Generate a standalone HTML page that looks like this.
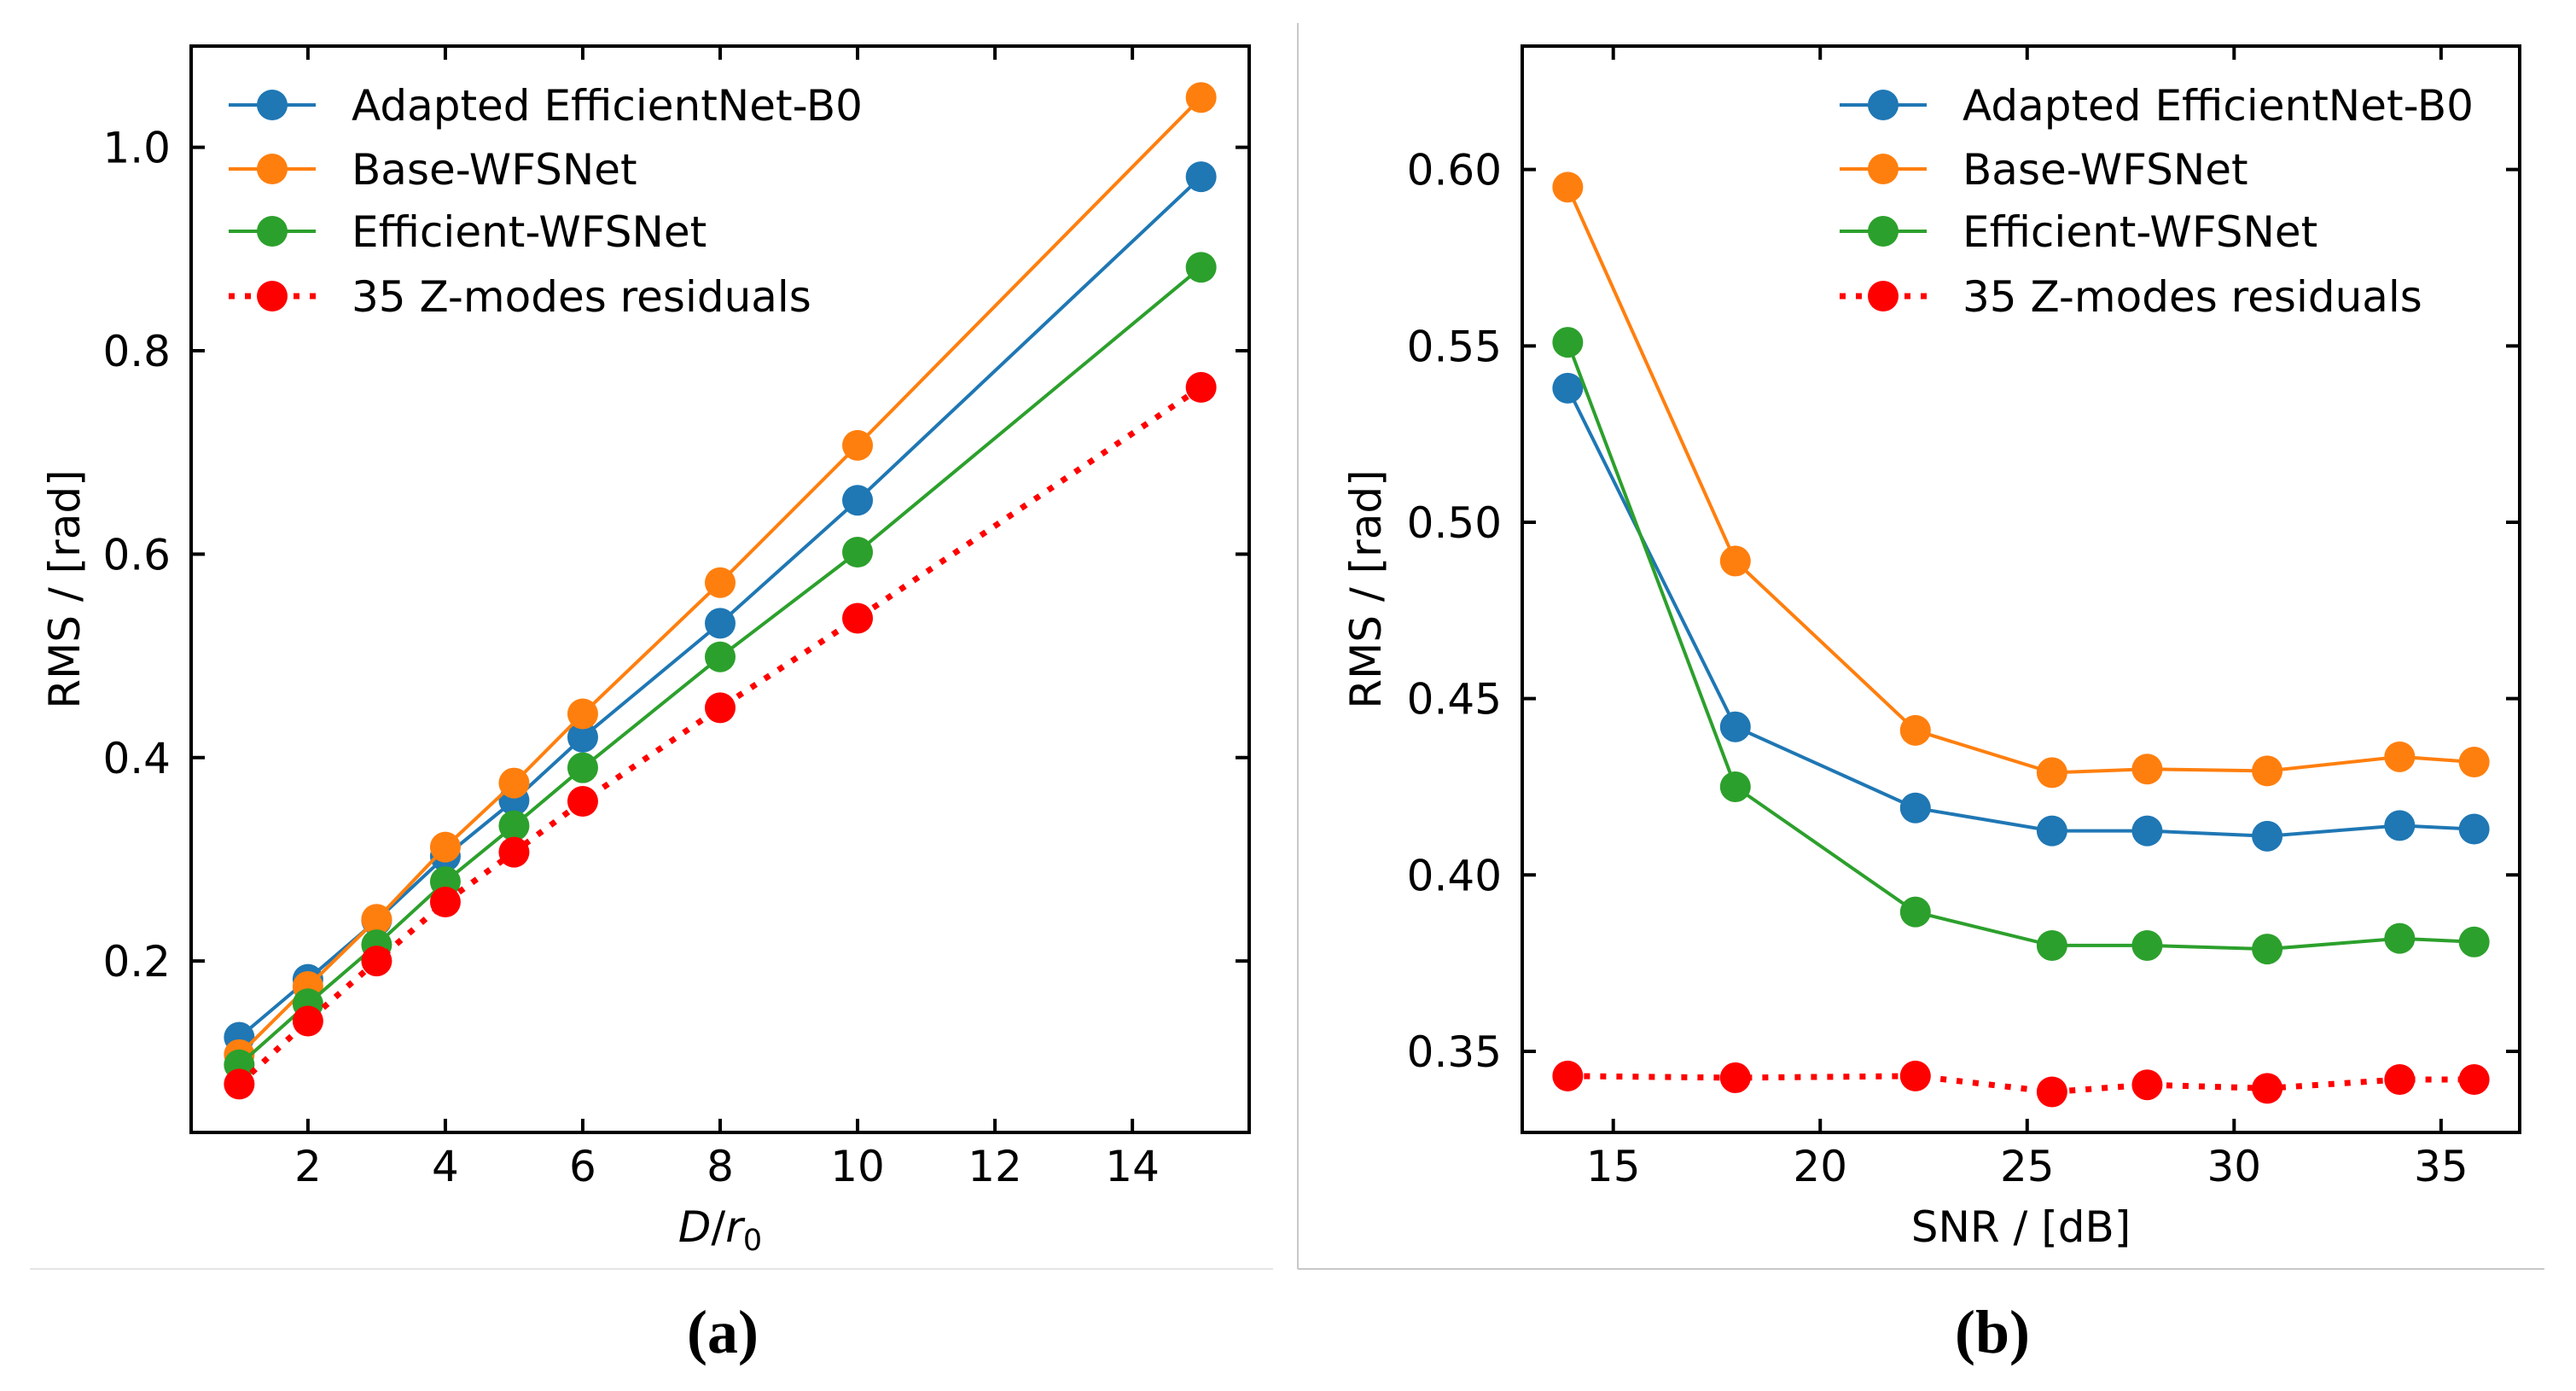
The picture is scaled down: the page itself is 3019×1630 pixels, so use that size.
<!DOCTYPE html>
<html><head><meta charset="utf-8"><style>
html,body{margin:0;padding:0;background:#fff;}
svg{display:block;}
text{font-family:"DejaVu Sans","Liberation Sans",sans-serif;fill:#000;}
</style></head><body>
<svg id="fig" xmlns="http://www.w3.org/2000/svg" width="3019" height="1630" viewBox="0 0 3019 1630">
<rect width="3019" height="1630" fill="#fff"/>
<line x1="35" y1="1487" x2="1492" y2="1487" stroke="#e4e4e4" stroke-width="2"/>
<line x1="1521" y1="1487" x2="2982" y2="1487" stroke="#c8c8c8" stroke-width="2"/>
<line x1="1521" y1="27" x2="1521" y2="1487" stroke="#c8c8c8" stroke-width="2"/>
<text x="847" y="1585" font-weight="bold" font-size="72" text-anchor="middle" style="font-family:'Liberation Serif',serif">(a)</text>
<text x="2335" y="1585" font-weight="bold" font-size="72" text-anchor="middle" style="font-family:'Liberation Serif',serif">(b)</text>
</svg>
<script>
// Panel (a) data
const aX = [1, 2, 3, 4, 5, 6, 8, 10, 15];
const aBlue = [0.125, 0.182, 0.240, 0.303, 0.358, 0.420, 0.532, 0.653, 0.971];
const aOrange = [0.108, 0.175, 0.241, 0.312, 0.375, 0.443, 0.572, 0.707, 1.049];
const aGreen = [0.098, 0.158, 0.216, 0.278, 0.333, 0.390, 0.499, 0.602, 0.882];
const aRed = [0.079, 0.141, 0.200, 0.258, 0.307, 0.357, 0.449, 0.537, 0.764];
const aXTicks = [2, 4, 6, 8, 10, 12, 14];
const aYTicks = [0.2, 0.4, 0.6, 0.8, 1.0];
// Panel (b) data
const bX = [13.9, 17.95, 22.3, 25.6, 27.9, 30.8, 34.0, 35.8];
const bBlue = [0.538, 0.442, 0.419, 0.4125, 0.4125, 0.411, 0.414, 0.413];
const bOrange = [0.595, 0.489, 0.441, 0.429, 0.430, 0.4295, 0.4335, 0.432];
const bGreen = [0.551, 0.425, 0.3895, 0.380, 0.380, 0.379, 0.382, 0.381];
const bRed = [0.343, 0.3425, 0.343, 0.3385, 0.3405, 0.3395, 0.342, 0.342];
const bXTicks = [15, 20, 25, 30, 35];
const bYTicks = [0.35, 0.40, 0.45, 0.50, 0.55, 0.60];
const seriesNames = ["Adapted EfficientNet-B0", "Base-WFSNet", "Efficient-WFSNet", "35 Z-modes residuals"];

const NS = "http://www.w3.org/2000/svg";
const svg = document.getElementById("fig");
function mk(tag, attrs, parent) {
  const e = document.createElementNS(NS, tag);
  for (const k in attrs) e.setAttribute(k, attrs[k]);
  (parent || svg).appendChild(e);
  return e;
}
const colors = ["#1f77b4", "#ff7f0e", "#2ca02c", "#ff0000"];

function panel(cfg) {
  const g = mk("g", {});
  
  
  const L = cfg.box[0], T = cfg.box[1], R = cfg.box[2], B = cfg.box[3];
  const sx = v => L + (v - cfg.xr[0]) / (cfg.xr[1] - cfg.xr[0]) * (R - L);
  const sy = v => B - (v - cfg.yr[0]) / (cfg.yr[1] - cfg.yr[0]) * (B - T);
  cfg.xt.forEach(t => {
    const x = sx(t);
    const tk = mk("path", {d: `M${x},${B}v-16M${x},${T}v16`, stroke: "#000", "stroke-width": 4}, g);
    
    
    const lb = mk("text", {x: x, y: 1384, "font-size": 50, "text-anchor": "middle"}, g);
    lb.textContent = String(t);
    
    
  });
  cfg.yt.forEach(t => {
    const y = sy(t);
    const tk = mk("path", {d: `M${L},${y}h16M${R},${y}h-16`, stroke: "#000", "stroke-width": 4}, g);
    
    
    const lb = mk("text", {x: L - 24, y: y + 18, "font-size": 50, "text-anchor": "end"}, g);
    lb.textContent = t.toFixed(cfg.dec);
    
    
  });
  cfg.series.forEach((ys, i) => {
    const pts = cfg.x.map((xv, j) => sx(xv).toFixed(1) + "," + sy(ys[j]).toFixed(1)).join(" ");
    const attrs = {points: pts, fill: "none", stroke: colors[i], "stroke-width": i === 3 ? 7 : 4};
    if (i === 3) attrs["stroke-dasharray"] = "7 12";
    const pl = mk("polyline", attrs, g);
    
    
    cfg.x.forEach((xv, j) => {
      const c = mk("circle", {cx: sx(xv), cy: sy(ys[j]), r: 18, fill: colors[i]}, g);
      
      
    });
  });
  const fr = mk("rect", {x: L, y: T, width: R - L, height: B - T, fill: "none", stroke: "#000", "stroke-width": 4}, g);
  
  
  const lg = mk("g", {}, g);
  
  
  const rows = [123, 198, 271, 347];
  seriesNames.forEach((n, i) => {
    const y = rows[i];
    const la = {x1: cfg.lx, y1: y, x2: cfg.lx + 102, y2: y, stroke: colors[i], "stroke-width": i === 3 ? 7 : 4};
    if (i === 3) la["stroke-dasharray"] = "7 12";
    const ln = mk("line", la, lg);
    
    
    const c = mk("circle", {cx: cfg.lx + 51, cy: y, r: 18, fill: colors[i]}, lg);
    
    
    const t = mk("text", {x: cfg.lx + 144, y: y + 18, "font-size": 50}, lg);
    t.textContent = n;
    
    
  });
  const yl = mk("text", {x: 0, y: 0, "font-size": 50, "text-anchor": "middle", transform: `translate(${cfg.ylx},${(T + B) / 2}) rotate(-90)`}, g);
  yl.textContent = "RMS / [rad]";
  
  
  const xl = mk("text", {x: (L + R) / 2, y: 1455, "font-size": 50, "text-anchor": "middle"}, g);
  if (cfg.xlabelHTML) {
    xl.innerHTML = '<tspan font-style="italic">D</tspan>/<tspan font-style="italic">r</tspan><tspan font-size="35" dy="10">0</tspan>';
  } else xl.textContent = cfg.xlabel;
  
  
}

panel({name: "panel-a-chart", box: [224, 54, 1464, 1327], xr: [0.3, 15.7], yr: [0.0315, 1.0995],
  x: aX, series: [aBlue, aOrange, aGreen, aRed], xt: aXTicks, yt: aYTicks, dec: 1,
  lx: 268, ylx: 93, xlabelHTML: true});
panel({name: "panel-b-chart", box: [1784, 54, 2953, 1327], xr: [12.8, 36.9], yr: [0.327, 0.635],
  x: bX, series: [bBlue, bOrange, bGreen, bRed], xt: bXTicks, yt: bYTicks, dec: 2,
  lx: 2156, ylx: 1618, xlabel: "SNR / [dB]"});
</script>
</body></html>
